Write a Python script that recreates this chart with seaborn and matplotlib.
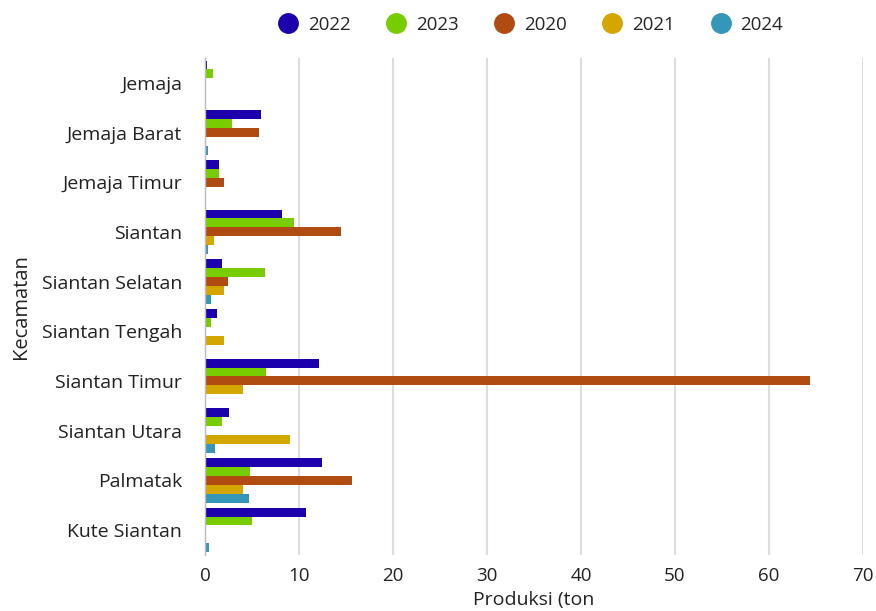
import numpy as np
import pandas as pd
import seaborn as sns
import matplotlib
matplotlib.use("Agg")
import matplotlib.pyplot as plt
from matplotlib.lines import Line2D

kecamatan = ["Jemaja", "Jemaja Barat", "Jemaja Timur", "Siantan", "Siantan Selatan",
             "Siantan Tengah", "Siantan Timur", "Siantan Utara", "Palmatak", "Kute Siantan"]
tahun = ["2022", "2023", "2020", "2021", "2024"]
nan = np.nan
v2022 = [0.2, 6.0, 1.5, 8.2, 1.8, 1.3, 12.1, 2.6, 12.4, 10.7]
v2023 = [0.9, 2.9, 1.5, 9.5, 6.4, 0.6, 6.5, 1.8, 4.8, 5.0]
v2020 = [nan, 5.8, 2.0, 14.5, 2.5, nan, 64.4, nan, 15.6, nan]
v2021 = [nan, nan, nan, 1.0, 2.0, 2.0, 4.0, 9.0, 4.0, nan]
v2024 = [nan, 0.3, nan, 0.3, 0.6, nan, nan, 1.1, 4.7, 0.4]
warna = ["#1c00ad", "#77cd00", "#b04b12", "#d4a600", "#3497b9"]

rows = []
for th, vals in zip(tahun, [v2022, v2023, v2020, v2021, v2024]):
    for k, v in zip(kecamatan, vals):
        rows.append({"Kecamatan": k, "Tahun": th, "Produksi": v})
df = pd.DataFrame(rows)

sns.set_style("white")
plt.rcParams['font.family'] = ['Open Sans', 'DejaVu Sans']

fig = plt.figure(figsize=(8.76, 6.11), dpi=100)
ax = fig.add_axes([0.234, 0.092, 0.751, 0.813])
sns.barplot(data=df, y="Kecamatan", x="Produksi", hue="Tahun", order=kecamatan,
            hue_order=tahun, palette=warna, saturation=1, orient="h", width=0.9,
            errorbar=None, linewidth=0, ax=ax, legend=False)

ax.set_xlim(0, 70)
ax.set_xticks(range(0, 71, 10))
ax.grid(axis="x", color="#dddddd", linewidth=1.5)
ax.set_axisbelow(True)
for s in ["top", "right", "bottom"]:
    ax.spines[s].set_visible(False)
ax.spines["left"].set_color("#bbbbbb")
ax.spines["left"].set_linewidth(1)
ax.tick_params(axis="x", length=0, labelsize=13.5, colors="#222222", pad=9)
ax.tick_params(axis="y", length=0, labelsize=14, colors="#222222", pad=16.5)
ax.set_xlabel("Produksi (ton", fontsize=14, color="#222222")
ax.xaxis.set_label_coords(0.5, -0.0725)
ax.set_ylabel("Kecamatan", fontsize=14.5, color="#222222")
ax.yaxis.set_label_coords(-0.265, 0.5)

handles = [Line2D([], [], marker="o", linestyle="", markersize=14, color=c) for c in warna]
fig.legend(handles, tahun, loc="center", bbox_to_anchor=(0.605, 0.959), ncol=5,
           frameon=False, fontsize=13.5, handlelength=1.2, handletextpad=0.45,
           columnspacing=1.84, borderpad=0, borderaxespad=0)

fig.savefig("out.png", dpi=100)
